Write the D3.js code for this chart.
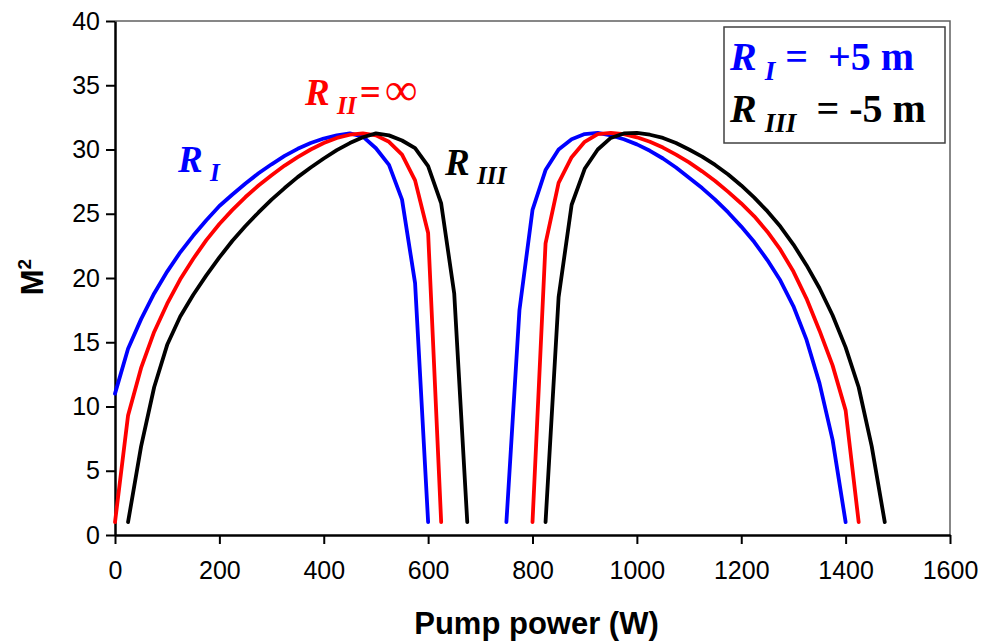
<!DOCTYPE html>
<html>
<head>
<meta charset="utf-8">
<script src="https://cdn.jsdelivr.net/npm/d3@7"></script>
<style>
    body { margin: 0; background: #fff; }
    svg { display: block; }
    text { white-space: pre; }
</style>
</head>
<body>
<div id="chart"></div>
<script>
// pump power (W) and M^2, one pair of arrays per branch
var powerBlueLeft = [0, 25, 50, 75, 100, 125, 150, 175, 200, 225, 250, 275, 300, 325, 350, 375, 400, 425, 450, 475, 500, 525, 550, 575, 600];
var m2BlueLeft = [11.0, 14.5, 16.8, 18.8, 20.5, 22.0, 23.3, 24.5, 25.6, 26.5, 27.35, 28.15, 28.85, 29.5, 30.05, 30.5, 30.85, 31.1, 31.25, 31.0, 30.1, 28.8, 26.1, 19.6, 1.0];

var powerRedLeft = [0, 25, 50, 75, 100, 125, 150, 175, 200, 225, 250, 275, 300, 325, 350, 375, 400, 425, 450, 475, 500, 525, 550, 575, 600, 625];
var m2RedLeft = [1.0, 9.3, 13.0, 15.8, 18.0, 19.9, 21.5, 22.95, 24.2, 25.3, 26.3, 27.2, 28.0, 28.75, 29.4, 30.0, 30.5, 30.9, 31.15, 31.25, 31.1, 30.6, 29.6, 27.6, 23.5, 1.0];

var powerBlackLeft = [25, 50, 75, 100, 125, 150, 175, 200, 225, 250, 275, 300, 325, 350, 375, 400, 425, 450, 475, 500, 525, 550, 575, 600, 625, 650, 675];
var m2BlackLeft = [1.0, 6.9, 11.5, 14.8, 17.0, 18.7, 20.2, 21.6, 22.9, 24.05, 25.1, 26.1, 27.0, 27.85, 28.6, 29.3, 29.95, 30.5, 30.95, 31.25, 31.1, 30.7, 30.1, 28.7, 25.8, 18.8, 1.0];

var powerBlueRight = [750, 775, 800, 825, 850, 875, 900, 925, 950, 975, 1000, 1025, 1050, 1075, 1100, 1125, 1150, 1175, 1200, 1225, 1250, 1275, 1300, 1325, 1350, 1375, 1400];
var m2BlueRight = [1.0, 17.5, 25.3, 28.4, 30.0, 30.8, 31.2, 31.3, 31.1, 30.8, 30.4, 29.9, 29.3, 28.6, 27.8, 27.0, 26.1, 25.1, 24.0, 22.8, 21.4, 19.8, 17.8, 15.2, 11.8, 7.4, 1.0];

var powerRedRight = [800, 825, 850, 875, 900, 925, 950, 975, 1000, 1025, 1050, 1075, 1100, 1125, 1150, 1175, 1200, 1225, 1250, 1275, 1300, 1325, 1350, 1375, 1400, 1425];
var m2RedRight = [1.0, 22.7, 27.4, 29.4, 30.6, 31.2, 31.3, 31.2, 30.95, 30.6, 30.15, 29.6, 29.0, 28.3, 27.55, 26.7, 25.8, 24.8, 23.6, 22.2, 20.5, 18.4, 15.9, 13.2, 9.7, 1.0];

var powerBlackRight = [825, 850, 875, 900, 925, 950, 975, 1000, 1025, 1050, 1075, 1100, 1125, 1150, 1175, 1200, 1225, 1250, 1275, 1300, 1325, 1350, 1375, 1400, 1425, 1450, 1475];
var m2BlackRight = [1.0, 18.5, 25.7, 28.5, 30.0, 30.9, 31.25, 31.3, 31.15, 30.9, 30.5, 30.0, 29.45, 28.8, 28.05, 27.2, 26.25, 25.2, 24.0, 22.6, 21.0, 19.2, 17.1, 14.6, 11.5, 6.9, 1.0];

var xTicks = [0, 200, 400, 600, 800, 1000, 1200, 1400, 1600];
var yTicks = [0, 5, 10, 15, 20, 25, 30, 35, 40];

var curves = [
    { color: "#0000ff", power: powerBlueLeft, m2: m2BlueLeft },
    { color: "#ff0000", power: powerRedLeft, m2: m2RedLeft },
    { color: "#000000", power: powerBlackLeft, m2: m2BlackLeft },
    { color: "#0000ff", power: powerBlueRight, m2: m2BlueRight },
    { color: "#ff0000", power: powerRedRight, m2: m2RedRight },
    { color: "#000000", power: powerBlackRight, m2: m2BlackRight }
];

var width = 985;
var height = 643;
var plotLeft = 115, plotRight = 950, plotTop = 21, plotBottom = 535;

var svg = d3.select("#chart")
    .append("svg")
    .attr("width", width)
    .attr("height", height);

var x = d3.scaleLinear().domain([0, 1600]).range([plotLeft, plotRight]);
var y = d3.scaleLinear().domain([0, 40]).range([plotBottom, plotTop]);

// plot area frame (top and right)
svg.append("path")
    .attr("d", "M" + plotLeft + "," + plotTop + "H" + plotRight + "V" + plotBottom)
    .attr("fill", "none")
    .attr("stroke", "#606060")
    .attr("stroke-width", 1.5);

// axes
var xAxis = svg.append("g")
    .attr("transform", "translate(0," + plotBottom + ")")
    .call(d3.axisBottom(x).tickValues(xTicks).tickFormat(d3.format("d"))
        .tickSize(9).tickPadding(17).tickSizeOuter(0));

var yAxis = svg.append("g")
    .attr("transform", "translate(" + plotLeft + ",0)")
    .call(d3.axisLeft(y).tickValues(yTicks).tickFormat(d3.format("d"))
        .tickSize(9).tickPadding(6).tickSizeOuter(0));

[xAxis, yAxis].forEach(function (g) {
    g.select(".domain").attr("stroke", "#000").attr("stroke-width", 2.5);
    g.selectAll(".tick line").attr("stroke", "#000").attr("stroke-width", 2);
    g.selectAll(".tick text")
        .attr("fill", "#000")
        .style("font-family", "Liberation Sans, Arial, sans-serif")
        .style("font-size", "25px");
});

// curves
var line = d3.line()
    .x(function (d) { return x(d[0]); })
    .y(function (d) { return y(d[1]); });

curves.forEach(function (c) {
    var pts = c.power.map(function (p, i) { return [p, c.m2[i]]; });
    svg.append("path")
        .datum(pts)
        .attr("d", line)
        .attr("fill", "none")
        .attr("stroke", c.color)
        .attr("stroke-width", 3.8)
        .attr("stroke-linejoin", "round")
        .attr("stroke-linecap", "round");
});

// axis titles
svg.append("text")
    .attr("x", (plotLeft + plotRight) / 2 + 4)
    .attr("y", 634)
    .attr("text-anchor", "middle")
    .style("font-family", "Liberation Sans, Arial, sans-serif")
    .style("font-weight", "bold")
    .style("font-size", "31px")
    .text("Pump power (W)");

var yTitle = svg.append("text")
    .attr("transform", "translate(43,277) rotate(-90)")
    .attr("text-anchor", "middle")
    .style("font-family", "Liberation Sans, Arial, sans-serif")
    .style("font-weight", "bold")
    .style("font-size", "31px");
yTitle.append("tspan").text("M");
yTitle.append("tspan").attr("dy", -12).style("font-size", "19px").text("2");

// R labels with italic subscripts
function rLabel(xp, yp, sub, size, color) {
    var t = svg.append("text")
        .attr("x", xp)
        .attr("y", yp)
        .attr("fill", color)
        .style("font-family", "Liberation Serif, Times New Roman, serif")
        .style("font-weight", "bold")
        .style("font-size", size + "px");
    t.append("tspan").style("font-style", "italic").text("R");
    t.append("tspan")
        .attr("dx", size * 0.2)
        .attr("dy", size * 0.25)
        .style("font-style", "italic")
        .style("font-size", (size * 0.68) + "px")
        .text(sub);
    return t;
}

rLabel(178, 172, "I", 37, "#0000ff");
var r2 = rLabel(305, 105, "II", 37, "#ff0000");
r2.append("tspan").attr("dx", 3).attr("dy", -37 * 0.25).text("=");
r2.append("tspan").attr("dx", 4).style("font-weight", "normal").style("font-size", "46px").text("\u221e");
rLabel(445, 175, "III", 37, "#000000");

// legend box
svg.append("rect")
    .attr("x", 724)
    .attr("y", 27)
    .attr("width", 221)
    .attr("height", 116)
    .attr("fill", "#fff")
    .attr("stroke", "#404040")
    .attr("stroke-width", 1.5);

rLabel(730, 70, "I", 40, "#0000ff")
    .append("tspan").attr("dy", -10).text(" =  +5 m");
rLabel(730, 122, "III", 40, "#000000")
    .append("tspan").attr("dy", -10).text("  = -5 m");
</script>
</body>
</html>
